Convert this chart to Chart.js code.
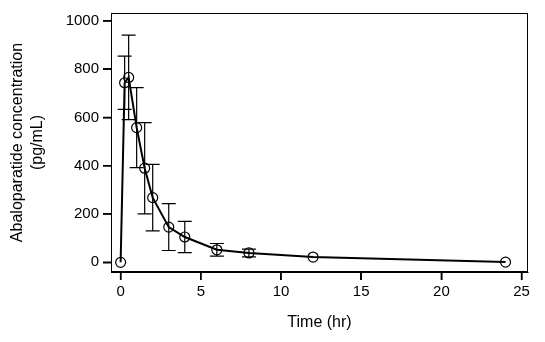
<!DOCTYPE html>
<html>
<head>
<meta charset="utf-8">
<script src="https://cdn.jsdelivr.net/npm/chart.js@4"></script>
<style>
  html, body { margin: 0; padding: 0; background: #fff; }
  #wrap { width: 545px; height: 342px; }
</style>
</head>
<body>
<div id="wrap"><canvas id="chart" width="545" height="342"></canvas></div>
<script>
// time points (hr) and mean concentration (pg/mL)
const times = [0, 0.25, 0.5, 1, 1.5, 2, 3, 4, 6, 8, 12, 24];
const meanConc = [0, 744, 766, 558, 390, 268, 146, 105, 52, 39, 22, 1];
// standard deviation for the error bars
const sdConc = [0, 110, 175, 166, 189, 138, 97, 65, 26, 16, 0, 0];

const xTicks = [0, 5, 10, 15, 20, 25];
const yTicks = [0, 200, 400, 600, 800, 1000];

const font = "'Liberation Sans', Arial, sans-serif";

// draw the error bars from the data through the scales
const errorBars = {
  id: "errorBars",
  afterDatasetsDraw(chart) {
    const ctx = chart.ctx;
    const xs = chart.scales.x;
    const ys = chart.scales.y;
    ctx.save();
    ctx.strokeStyle = "#000";
    ctx.lineWidth = 1.2;
    times.forEach((t, i) => {
      const sd = sdConc[i];
      if (!sd) return;
      const px = xs.getPixelForValue(t);
      const top = ys.getPixelForValue(meanConc[i] + sd);
      const bot = ys.getPixelForValue(meanConc[i] - sd);
      ctx.beginPath();
      ctx.moveTo(px, top);
      ctx.lineTo(px, bot);
      ctx.moveTo(px - 7, top);
      ctx.lineTo(px + 7, top);
      ctx.moveTo(px - 7, bot);
      ctx.lineTo(px + 7, bot);
      ctx.stroke();
    });
    ctx.restore();
  },
};

// box around the plot area, plus outward tick marks
const frame = {
  id: "frame",
  afterDraw(chart) {
    const a = chart.chartArea;
    const ctx = chart.ctx;
    const xs = chart.scales.x;
    const ys = chart.scales.y;
    ctx.save();
    ctx.strokeStyle = "#000";
    ctx.lineWidth = 1;
    ctx.strokeRect(a.left + 0.5, a.top + 0.5, a.right - a.left - 1, a.bottom - a.top - 1);
    ctx.lineWidth = 1.5;
    ctx.beginPath();
    for (const v of xTicks) {
      const px = xs.getPixelForValue(v);
      ctx.moveTo(px, a.bottom);
      ctx.lineTo(px, a.bottom + 8);
    }
    for (const v of yTicks) {
      const py = ys.getPixelForValue(v);
      ctx.moveTo(a.left, py);
      ctx.lineTo(a.left - 8, py);
    }
    ctx.stroke();
    ctx.restore();
  },
};

Chart.defaults.font.family = font;
Chart.defaults.color = "#000";

new Chart(document.getElementById("chart"), {
  type: "line",
  data: {
    datasets: [
      {
        data: times.map((t, i) => ({ x: t, y: meanConc[i] })),
        borderColor: "#000",
        borderWidth: 2,
        pointRadius: 5,
        pointBorderWidth: 1.2,
        pointBackgroundColor: "rgba(0,0,0,0)",
        pointBorderColor: "#000",
        tension: 0,
      },
    ],
  },
  options: {
    responsive: false,
    animation: false,
    clip: false,
    layout: { padding: { left: 0, top: 12, right: 17, bottom: 0 } },
    plugins: { legend: { display: false }, tooltip: { enabled: false } },
    scales: {
      x: {
        type: "linear",
        min: -0.6,
        max: 25.4,
        afterBuildTicks: (s) => { s.ticks = xTicks.map((v) => ({ value: v })); },
        afterFit: (s) => { s.height = 70; },
        grid: { drawOnChartArea: false, drawTicks: true, tickLength: 8, color: "#000", lineWidth: 1.5 },
        border: { display: true, color: "#000", width: 1 },
        ticks: { font: { size: 15 }, padding: 3, maxRotation: 0, callback: (v) => String(v) },
        title: { display: true, text: "Time (hr)", font: { size: 16 }, padding: { top: 6, bottom: 10 } },
      },
      y: {
        min: -40,
        max: 1033,
        afterBuildTicks: (s) => { s.ticks = yTicks.map((v) => ({ value: v })); },
        afterFit: (s) => { s.width = 111; },
        grid: { drawOnChartArea: false, drawTicks: true, tickLength: 8, color: "#000", lineWidth: 1.5 },
        border: { display: true, color: "#000", width: 1 },
        ticks: { font: { size: 15 }, padding: 4, callback: (v) => String(v) },
        title: {
          display: true,
          text: ["Abaloparatide concentration", "(pg/mL)"],
          font: { size: 16, lineHeight: 1.25 },
          padding: { top: 8 },
        },
      },
    },
  },
  plugins: [errorBars, frame],
});
</script>
</body>
</html>
